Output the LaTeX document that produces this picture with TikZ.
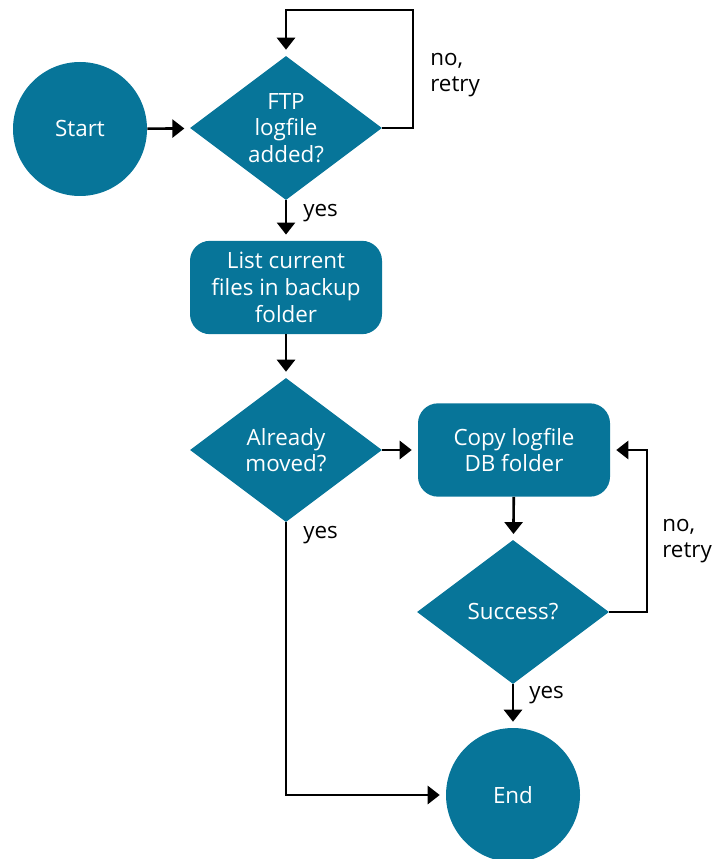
\documentclass[tikz,border=0pt]{standalone}
\usepackage{fontspec}
\setmainfont{Open Sans}
\usetikzlibrary{arrows.meta,shapes.geometric}
\definecolor{flowteal}{RGB}{7,117,153}
\tikzset{
    >={Triangle[width=13.5pt,length=9pt]}, % Default arrow tip
    x=0.75pt, y=-0.75pt,
    every node/.style={font=\fontsize{16.8}{20}\selectfont},
    terminal/.style={circle, fill=flowteal, text=white, minimum size=100.5pt, inner sep=0pt},
    decision/.style={diamond, fill=flowteal, text=white, align=center,
        minimum width=144pt, minimum height=108pt, shape aspect=1.333, inner sep=0pt},
    process/.style={rectangle, rounded corners=15pt, fill=flowteal, text=white, align=center,
        minimum width=144pt, minimum height=70pt, inner sep=0pt},
    flow/.style={->, line width=2pt, shorten >=4.5pt},
    branch/.style={align=left, inner sep=0pt}
}

\begin{document}
\begin{tikzpicture}
    \useasboundingbox (0,0) rectangle (721,859);
    \draw
        node[terminal] (start) at (80,129) {Start}
        node[decision] (ftp) at (286,128) {FTP\\logfile\\added?}
        node[process] (list) at (286,287.5) {List current\\files in backup\\folder}
        node[decision] (moved) at (286,450) {Already\\moved?}
        node[process] (copy) at (514,450) {Copy logfile\\DB folder}
        node[decision] (success) at (513,612) {Success?}
        node[terminal] (end) at (513,795) {End}
    ;
    \foreach \from/\to in {start/ftp, ftp/list, list/moved, moved/copy, copy/success, success/end}
        \draw [flow] (\from) -- (\to);
    % retry loops
    \draw
        [flow]
        (ftp.east) -- (413,128) |- (286,10) -- (ftp.north)
    ;
    \draw
        [flow]
        (success.east) -- (647,612) |- (copy.east)
    ;
    \draw
        [flow]
        (moved.south) |- (end.west)
    ;
    \draw
        node[branch, anchor=west] (ftpno) at (430,75) {no,\\retry}
        node[branch, anchor=west] (ftpyes) at (303,213) {yes}
        node[branch, anchor=west] (movedyes) at (303,535) {yes}
        node[branch, anchor=west] (successno) at (662,541) {no,\\retry}
        node[branch, anchor=west] (successyes) at (529,695) {yes}
    ;
\end{tikzpicture}
\end{document}
